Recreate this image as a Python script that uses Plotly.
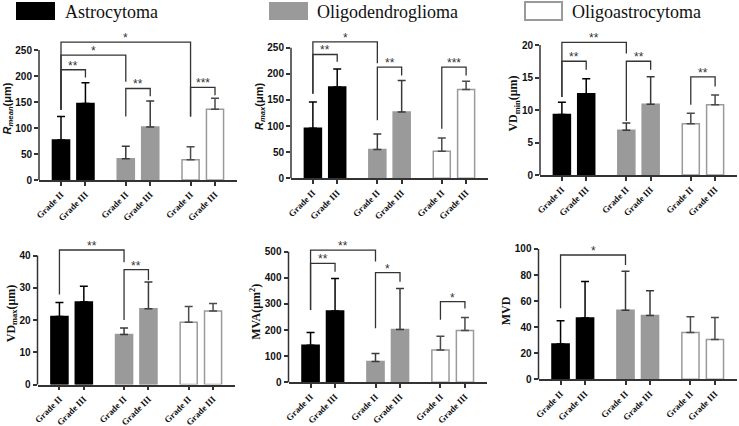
import plotly.graph_objects as go

groups = ["Astrocytoma", "Oligodendroglioma", "Oligoastrocytoma"]
grades = ["Grade II", "Grade III"]

# mean and SD per bar: Astro II, Astro III, Oligo II, Oligo III, OA II, OA III
rmean_mean = [77, 147, 41, 102, 39, 136]
rmean_sd = [45, 40, 24, 50, 25, 21]
rmax_mean = [96, 175, 55, 127, 52, 170]
rmax_sd = [50, 34, 30, 60, 25, 16]
vdmin_mean = [9.3, 12.5, 6.9, 10.9, 7.9, 10.8]
vdmin_sd = [1.9, 2.3, 1.1, 4.2, 1.6, 1.5]
vdmax_mean = [21.1, 25.6, 15.5, 23.5, 19.3, 22.8]
vdmax_sd = [4.3, 4.9, 2.0, 8.3, 4.9, 2.3]
mva_mean = [142, 273, 80, 202, 124, 198]
mva_sd = [49, 124, 30, 157, 52, 50]
mvd_mean = [27, 47, 53, 49, 36, 30.5]
mvd_sd = [18, 28, 30, 19, 12, 17]

# significance brackets: (bar a, bar b, top, left leg end, right leg end, label)
rmean_sig = [(0, 4, 265, 135, 122, "*"), (0, 2, 240, 135, 189, "*"), (0, 1, 212, 135, 197, "**"),
             (2, 3, 176, 122, 161, "**"), (4, 5, 178, 122, 163, "***")]
rmax_sig = [(0, 2, 261, 162, 220, "*"), (0, 1, 237, 162, 223, "**"),
            (2, 3, 213, 111, 197, "**"), (4, 5, 213, 95, 197, "***")]
vdmin_sig = [(0, 2, 20.4, 12.0, 18.7, "**"), (0, 1, 17.5, 12.0, 16.2, "**"),
             (2, 3, 17.5, 8.3, 16.2, "**"), (4, 5, 15.1, 10.8, 13.6, "**")]
vdmax_sig = [(0, 2, 41.7, 27.9, 37.9, "**"), (2, 3, 35.6, 20.0, 32.3, "**")]
mva_sig = [(0, 2, 506, 277, 462, "**"), (0, 1, 455, 277, 423, "**"),
           (2, 3, 420, 207, 385, "*"), (4, 5, 309, 239, 283, "*")]
mvd_sig = [(0, 2, 95.4, 54.5, 87.7, "*")]

W, H = 739, 426
DARK = "#333333"
GRAY = "#9a9a9a"
fills = ["#000000", GRAY, "#ffffff"]
lines = ["#000000", GRAY, GRAY]
errc = ["#000000", "#3a3a3a", "#4a4a4a"]

positions = [g * 2.65 + k for g in range(3) for k in range(2)]

SANS = "Liberation Sans"
SERIF = "Liberation Serif"

panels = [
    # title, font, mean, sd, sig, tick max, dtick, range top, x px, y0 px, ytick px
    ("<i>R</i><sub><i>mean</i></sub>(μm)", SANS, rmean_mean, rmean_sd, rmean_sig, 250, 50, 275, (39, 237), 180, 50),
    ("<i>R</i><sub><i>max</i></sub>(μm)", SANS, rmax_mean, rmax_sd, rmax_sig, 250, 50, 275, (291, 488), 178.3, 47.7),
    ("VD<sub>min</sub>(μm)", SERIF, vdmin_mean, vdmin_sd, vdmin_sig, 20, 5, 22, (540, 737), 175, 45),
    ("VD<sub>max</sub>(μm)", SERIF, vdmax_mean, vdmax_sd, vdmax_sig, 40, 10, 44, (37.5, 235), 384.5, 255.5),
    ("MVA(μm<sup>2</sup>)", SERIF, mva_mean, mva_sd, mva_sig, 500, 100, 540, (288.5, 487), 382.3, 251.7),
    ("MVD", SERIF, mvd_mean, mvd_sd, mvd_sig, 100, 20, 105, (538.5, 737), 379.3, 249),
]

fig = go.Figure()
shapes = []
annotations = []

for p, (title, tfont, mean, sd, sig, tmax, dtick, rtop, xpx, y0px, ytpx) in enumerate(panels):
    n = "" if p == 0 else str(p + 1)
    xa, ya = "x" + n, "y" + n
    for g in range(3):
        idx = [2 * g, 2 * g + 1]
        fig.add_trace(go.Bar(
            x=[positions[i] for i in idx], y=[mean[i] for i in idx],
            width=0.7, xaxis=xa, yaxis=ya, showlegend=False,
            marker=dict(color=fills[g], line=dict(color=lines[g], width=1.5)),
            error_y=dict(type="data", symmetric=False, array=[sd[i] for i in idx],
                         arrayminus=[0, 0], color=errc[g], thickness=1.5, width=4),
        ))

    ppu = (y0px - ytpx) / tmax
    top_px = y0px - rtop * ppu
    xd = [xpx[0] / W, xpx[1] / W]
    yd = [1 - y0px / H, 1 - top_px / H]

    fig.layout["xaxis" + n] = dict(
        domain=xd, anchor=ya, range=[-0.9, 7.2], showgrid=False, zeroline=False,
        automargin=False,
        showline=True, linecolor=DARK, linewidth=1.5, ticks="outside", ticklen=4,
        tickwidth=1.5, tickcolor=DARK, tickvals=positions, ticktext=grades * 3,
        tickangle=-45, tickfont=dict(family=SERIF, size=9, color="#111", weight="bold"),
    )
    fig.layout["yaxis" + n] = dict(
        domain=yd, anchor=xa, range=[0, rtop], showgrid=False, zeroline=False,
        automargin=False,
        showline=False, ticks="outside", ticklen=4, tickwidth=1.5, tickcolor=DARK,
        tickvals=list(range(0, tmax + 1, dtick)),
        tickfont=dict(family=SANS, size=10, color="#111", weight="bold"),
        title=dict(text=title, standoff=1,
                   font=dict(family=tfont, size=11 if tfont == SANS else 12, color="#111", weight="bold")),
    )
    # y axis line only up to the top tick
    y_top_tick = yd[0] + (yd[1] - yd[0]) * tmax / rtop
    shapes.append(dict(type="line", xref="paper", yref="paper", x0=xd[0], x1=xd[0],
                       y0=yd[0], y1=y_top_tick, line=dict(color=DARK, width=1.5)))

    for a, b, top, yl, yr, label in sig:
        xa_, xb_ = positions[a], positions[b]
        shapes.append(dict(type="path", xref=xa, yref=ya,
                           path=f"M {xa_},{yl} L {xa_},{top} L {xb_},{top} L {xb_},{yr}",
                           line=dict(color=DARK, width=1.3)))
        annotations.append(dict(x=(xa_ + xb_) / 2, y=top, xref=xa, yref=ya, text=label,
                                showarrow=False, yanchor="bottom", yshift=-5,
                                font=dict(family=SANS, size=12, color=DARK)))

# legend drawn at the top
legend_px = [(16, 55, 63), (269, 308, 315), (525, 562, 570)]
for g, (x0, x1, tx) in enumerate(legend_px):
    shapes.append(dict(type="rect", xref="paper", yref="paper", x0=x0 / W, x1=x1 / W,
                       y0=1 - 20 / H, y1=1 - 2 / H, fillcolor=fills[g],
                       line=dict(color=lines[g], width=2 if g == 2 else 0)))
    annotations.append(dict(x=tx / W, y=1 - 12 / H, xref="paper", yref="paper", text=groups[g],
                            showarrow=False, xanchor="left", yanchor="middle",
                            font=dict(family=SERIF, size=18, color="#111")))

fig.update_layout(
    width=W, height=H, margin=dict(l=0, r=0, t=0, b=0, autoexpand=False),
    paper_bgcolor="white", plot_bgcolor="white", barmode="overlay",
    shapes=shapes, annotations=annotations,
)

# page body has a default 8px margin; drop it so the figure sits at the window corner
fig.write_html("out.html", config={"displayModeBar": False},
               post_script="document.body.style.margin='0';")
